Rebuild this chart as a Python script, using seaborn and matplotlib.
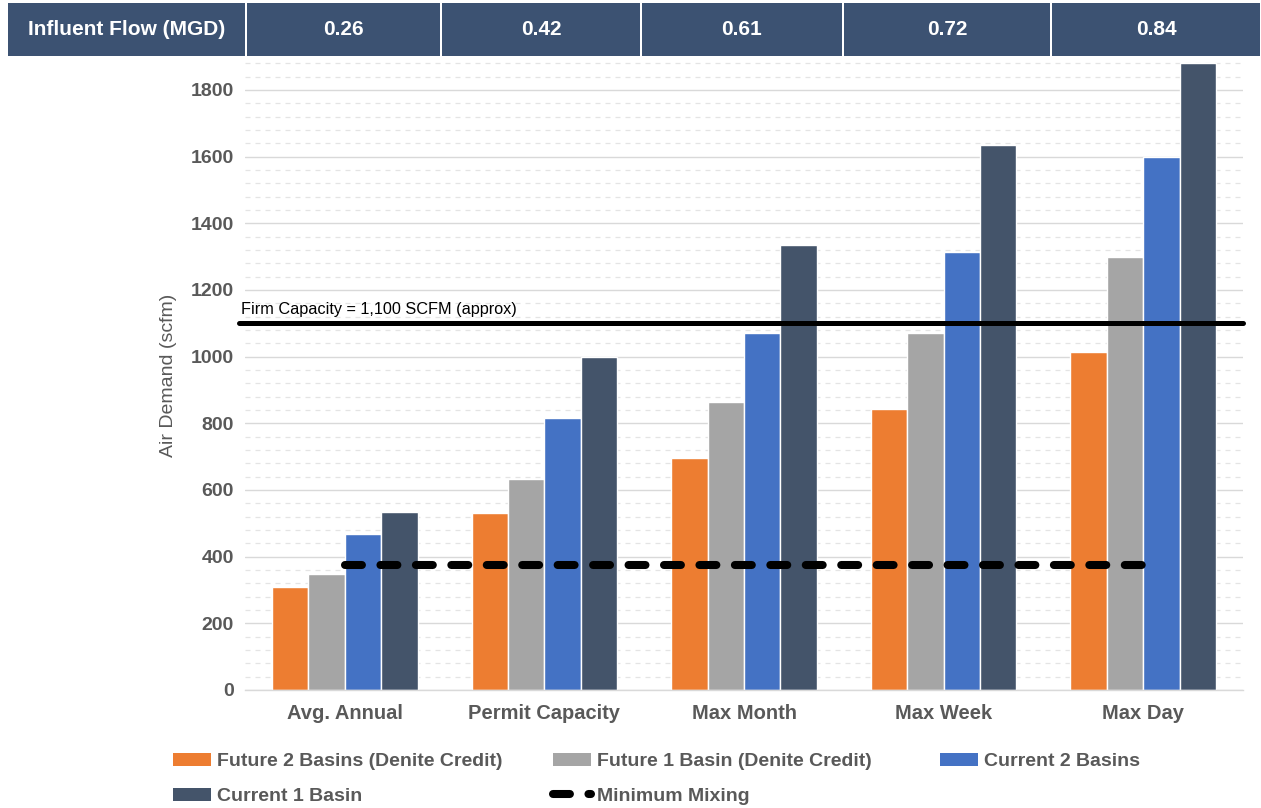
import matplotlib
matplotlib.use("Agg")
import matplotlib.pyplot as plt
from matplotlib.patches import Rectangle, Patch
from matplotlib.lines import Line2D
from matplotlib.ticker import MultipleLocator
import seaborn as sns
import pandas as pd

# ---- data -------------------------------------------------------------
conditions = ["Avg. Annual", "Permit Capacity", "Max Month", "Max Week", "Max Day"]
influent_flow = [0.26, 0.42, 0.61, 0.72, 0.84]

future_2_basins = [310, 530, 695, 842, 1015]
future_1_basin = [347, 632, 865, 1072, 1300]
current_2_basins = [468, 815, 1070, 1313, 1600]
current_1_basin = [533, 1000, 1335, 1635, 1882]

firm_capacity = 1100
minimum_mixing = 375

series_names = ["Future 2 Basins (Denite Credit)", "Future 1 Basin (Denite Credit)",
                "Current 2 Basins", "Current 1 Basin"]
series_values = [future_2_basins, future_1_basin, current_2_basins, current_1_basin]
series_colors = ["#ED7D31", "#A5A5A5", "#4472C4", "#44546A"]

rows = []
for name, vals in zip(series_names, series_values):
    for cond, v in zip(conditions, vals):
        rows.append({"Condition": cond, "Scenario": name, "Air Demand": v})
df = pd.DataFrame(rows)

# ---- style --------------------------------------------------------------
sns.set_theme(style="white")
plt.rcParams["font.family"] = ["Liberation Sans Narrow", "Liberation Sans", "DejaVu Sans"]
TEXT_GRAY = "#595959"

W, H = 1261, 808
fig = plt.figure(figsize=(W / 100, H / 100), dpi=100)
fig.patch.set_facecolor("white")

ax_left, ax_right, ax_bottom, ax_top = 245, 1243, 690, 60
ax = fig.add_axes([ax_left / W, (H - ax_bottom) / H,
                   (ax_right - ax_left) / W, (ax_bottom - ax_top) / H])

sns.barplot(data=df, x="Condition", y="Air Demand", hue="Scenario",
            order=conditions, hue_order=series_names,
            palette=dict(zip(series_names, series_colors)),
            width=0.73, gap=0, saturation=1, ax=ax, legend=False, zorder=2)

ax.set_xlim(-0.5, len(conditions) - 0.5)
ax.set_ylim(0, 1890)

# grid: solid majors, dashed minors
ax.yaxis.set_major_locator(MultipleLocator(200))
ax.yaxis.set_minor_locator(MultipleLocator(40))
ax.set_yticks(range(0, 1801, 200))
ax.grid(axis="y", which="major", color="#d9d9d9", linewidth=1.0, zorder=0)
ax.grid(axis="y", which="minor", color="#e4e4e4", linewidth=0.9,
        linestyle=(0, (4, 4)), zorder=0)
ax.set_axisbelow(True)
ax.tick_params(axis="both", which="both", length=0)
ax.tick_params(axis="y", pad=8)
ax.tick_params(axis="x", pad=10)

for s in ["top", "right", "left"]:
    ax.spines[s].set_visible(False)
ax.spines["bottom"].set_color("#d9d9d9")
ax.spines["bottom"].set_linewidth(1.0)

for lab in ax.get_yticklabels():
    lab.set_fontsize(14)
    lab.set_fontweight("bold")
    lab.set_color(TEXT_GRAY)
for lab in ax.get_xticklabels():
    lab.set_fontsize(14.5)
    lab.set_fontweight("bold")
    lab.set_color(TEXT_GRAY)

ax.set_xlabel("")
ax.set_ylabel("Air Demand (scfm)", fontsize=14, color=TEXT_GRAY, labelpad=10)

# firm capacity line and label
ax.axhline(firm_capacity, xmin=-0.006, xmax=1.0, color="black", linewidth=3.6,
           zorder=4, clip_on=False)
ax.text(-0.5 - 0.02, firm_capacity + 18, "Firm Capacity = 1,100 SCFM (approx)",
        fontsize=11.7, color="black", ha="left", va="bottom", zorder=5)

# minimum mixing line
mm_line, = ax.plot([0, len(conditions) - 1], [minimum_mixing, minimum_mixing],
                   color="black", linewidth=5.8, dashes=(2.1, 2.3),
                   dash_capstyle="round", zorder=5)

# ---- header table -----------------------------------------------------
HEADER_COLOR = "#3c5272"
edges = [7, 246, 441, 641, 843, 1051, 1261]
head_top, head_bot = 3, 56
labels = ["Influent Flow (MGD)"] + [f"{v:.2f}" for v in influent_flow]
for i, txt in enumerate(labels):
    x0, x1 = edges[i] + 1, edges[i + 1] - 1
    fig.patches.append(Rectangle((x0 / W, (H - head_bot) / H),
                                 (x1 - x0) / W, (head_bot - head_top) / H,
                                 transform=fig.transFigure, facecolor=HEADER_COLOR,
                                 edgecolor="none"))
    fig.text((x0 + x1) / 2 / W, (H - (head_top + head_bot) / 2) / H, txt,
             color="white", fontsize=15, fontweight="bold", ha="center", va="center")

# ---- legend ------------------------------------------------------------
patches = [Patch(facecolor=c, edgecolor="none") for c in series_colors]
mm_handle = Line2D([], [], color="black", linewidth=5.8, dashes=(2.1, 2.3),
                   dash_capstyle="round")
legend_kw = dict(loc="upper left", frameon=False, fontsize=14, handlelength=1.95,
                 handleheight=0.65, handletextpad=0.3, labelspacing=0.9,
                 borderpad=0, borderaxespad=0)
columns = [
    (173, [patches[0], patches[3]], [series_names[0], series_names[3]]),
    (553, [patches[1], mm_handle], [series_names[1], "Minimum Mixing"]),
    (940, [patches[2]], [series_names[2]]),
]
for x_px, hs, ls in columns:
    leg = fig.legend(hs, ls, bbox_to_anchor=(x_px / W, (H - 753) / H), **legend_kw)
    for t in leg.get_texts():
        t.set_color(TEXT_GRAY)
        t.set_fontweight("bold")

fig.savefig("out.png", dpi=100, facecolor="white")
